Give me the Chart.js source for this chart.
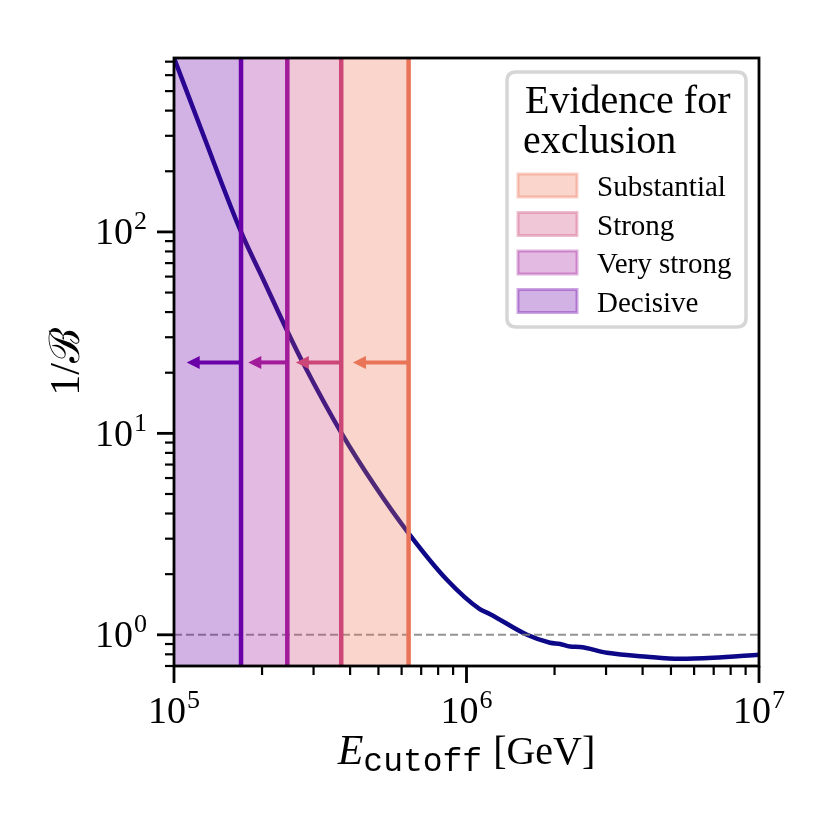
<!DOCTYPE html>
<html><head><meta charset="utf-8">
<script src="https://cdn.jsdelivr.net/npm/chart.js@4.4.0/dist/chart.umd.min.js"></script>
<style>html,body{margin:0;padding:0;background:#fff}canvas{display:block}</style>
</head><body>
<canvas id="c" width="830" height="830"></canvas>
<script>
// ---- data ----
const energyGeV = [1.0e5, 1.256e5, 1.695e5, 2.03e5, 2.43e5, 2.76e5, 3.75e5, 4.86e5, 6.36e5, 8.57e5, 1.11e6, 1.20e6, 1.61e6, 1.93e6, 2.09e6, 2.26e6, 2.44e6, 3.02e6, 4.14e6, 5.37e6, 6.97e6, 1.0e7];
const invBayes  = [730, 306, 100, 57.1, 32.6, 22.4, 9.94, 5.49, 3.17, 1.875, 1.34, 1.27, 1.0, 0.913, 0.900, 0.874, 0.870, 0.814, 0.778, 0.760, 0.769, 0.796];
const evidenceLabels = ['Substantial', 'Strong', 'Very strong', 'Decisive'];
const evidenceColors = ['#ea7457', '#cc4778', '#a11b9b', '#6a00a8'];
const thresholdEnergy = [6.34e5, 3.73e5, 2.44e5, 1.695e5];
const arrowTipEnergy = [4.09e5, 2.61e5, 1.795e5, 1.105e5];
const arrowLevel = 22.5;
const referenceLevel = 1;
const xRange = [1e5, 1e7];
const yRange = [0.7, 730];
const xTickValues = [1e5, 1e6, 1e7];
const yTickValues = [1, 10, 100];
const legendTitle = ['Evidence for', 'exclusion'];
const xTitleParts = ['E', 'cutoff', '[GeV]'];
const yTitle = '1/\u212C';

// ---- helpers ----
function rgba(hex, a) {
  const n = parseInt(hex.slice(1), 16);
  return `rgba(${(n >> 16) & 255},${(n >> 8) & 255},${n & 255},${a})`;
}
function expOf(v) { return String(Math.round(Math.log10(v))); }
const SERIF = '"Liberation Serif", "DejaVu Serif", serif';
const F_BASE = '38px ' + SERIF, F_EXP = '26px ' + SERIF;

function drawPow(ctx, v, x, baseline, align) {
  ctx.font = F_BASE; const wb = ctx.measureText('10').width;
  ctx.font = F_EXP; const e = expOf(v); const we = ctx.measureText(e).width;
  const total = wb + we + 1;
  let x0 = align === 'center' ? x - total / 2 : x - total;
  ctx.textAlign = 'left'; ctx.textBaseline = 'alphabetic'; ctx.fillStyle = '#000';
  ctx.font = F_BASE; ctx.fillText('10', x0, baseline);
  ctx.font = F_EXP; ctx.fillText(e, x0 + wb + 1, baseline - 15);
}

// ---- datasets ----
const datasets = [];
datasets.push({
  type: 'line', label: 'curve', order: 10,
  data: energyGeV.map((x, i) => ({x, y: invBayes[i]})),
  borderColor: '#0d0887', borderWidth: 4.5, pointRadius: 0,
  cubicInterpolationMode: 'monotone', fill: false
});
datasets.push({
  type: 'line', label: 'reference', order: 9,
  data: [{x: xRange[0], y: referenceLevel}, {x: xRange[1], y: referenceLevel}],
  borderColor: 'rgba(128,128,128,0.85)', borderWidth: 2, borderDash: [8, 4],
  pointRadius: 0, fill: false
});
evidenceLabels.forEach((lab, i) => {
  const lo = i + 1 < thresholdEnergy.length ? thresholdEnergy[i + 1] : xRange[0];
  datasets.push({
    type: 'line', label: lab, order: 5, legendPatch: true, patchColor: evidenceColors[i],
    data: [{x: lo, y: yRange[1]}, {x: thresholdEnergy[i], y: yRange[1]}],
    borderWidth: 0, borderColor: 'rgba(0,0,0,0)', pointRadius: 0,
    backgroundColor: rgba(evidenceColors[i], 0.3), fill: 'start'
  });
});
evidenceLabels.forEach((lab, i) => {
  datasets.push({
    type: 'line', label: lab + ' threshold', order: 2,
    data: [{x: thresholdEnergy[i], y: yRange[0]}, {x: thresholdEnergy[i], y: yRange[1]}],
    borderColor: evidenceColors[i], borderWidth: 4.5, pointRadius: 0, fill: false
  });
});

// ---- plugins ----
const decorPlugin = {
  id: 'decor',
  afterDatasetsDraw(chart) {
    const {ctx, scales: {x, y}} = chart;
    ctx.save();
    const ca = chart.chartArea;
    ctx.beginPath(); ctx.rect(ca.left, ca.top, ca.right - ca.left, ca.bottom - ca.top); ctx.clip();
    thresholdEnergy.forEach((xv, i) => {
      const x0 = x.getPixelForValue(xv), x1 = x.getPixelForValue(arrowTipEnergy[i]);
      const yy = y.getPixelForValue(arrowLevel);
      const headL = 13, headH = 6.5;
      ctx.strokeStyle = evidenceColors[i]; ctx.fillStyle = evidenceColors[i];
      ctx.lineWidth = 4;
      ctx.beginPath(); ctx.moveTo(x0, yy); ctx.lineTo(x1 + headL - 1, yy); ctx.stroke();
      ctx.beginPath(); ctx.moveTo(x1, yy); ctx.lineTo(x1 + headL, yy - headH); ctx.lineTo(x1 + headL, yy + headH); ctx.closePath(); ctx.fill();
    });
    ctx.restore();
  },
  afterDraw(chart) {
    const {ctx, scales: {x, y}} = chart;
    const ca = chart.chartArea;
    ctx.save();
    // ticks
    ctx.strokeStyle = '#000';
    const majLen = 17, minLen = 9;
    for (let e = Math.floor(Math.log10(xRange[0])); e <= Math.ceil(Math.log10(xRange[1])); e++) {
      for (let k = 1; k <= 9; k++) {
        const v = k * Math.pow(10, e);
        if (v < xRange[0] * 0.999 || v > xRange[1] * 1.001) continue;
        const p = x.getPixelForValue(v);
        ctx.lineWidth = k === 1 ? 2.8 : 2.2;
        ctx.beginPath(); ctx.moveTo(p, ca.bottom); ctx.lineTo(p, ca.bottom + (k === 1 ? majLen : minLen)); ctx.stroke();
      }
    }
    for (let e = Math.floor(Math.log10(yRange[0])); e <= Math.ceil(Math.log10(yRange[1])); e++) {
      for (let k = 1; k <= 9; k++) {
        const v = k * Math.pow(10, e);
        if (v < yRange[0] * 0.999 || v > yRange[1] * 1.001) continue;
        const p = y.getPixelForValue(v);
        ctx.lineWidth = k === 1 ? 2.8 : 2.2;
        ctx.beginPath(); ctx.moveTo(ca.left, p); ctx.lineTo(ca.left - (k === 1 ? majLen : minLen), p); ctx.stroke();
      }
    }
    // tick labels from scale ticks
    x.ticks.forEach(t => drawPow(ctx, t.value, x.getPixelForValue(t.value), ca.bottom + 57, 'center'));
    y.ticks.forEach(t => drawPow(ctx, t.value, ca.left - 27, y.getPixelForValue(t.value) + 12.5, 'right'));
    // frame
    ctx.lineWidth = 2.8;
    ctx.strokeStyle = '#000';
    ctx.strokeRect(ca.left, ca.top, ca.right - ca.left, ca.bottom - ca.top);

    // legend
    const bx = ca.right - 252, by = ca.top + 14, bw = 239, bh = 255, r = 9;
    ctx.beginPath();
    ctx.moveTo(bx + r, by); ctx.lineTo(bx + bw - r, by); ctx.quadraticCurveTo(bx + bw, by, bx + bw, by + r);
    ctx.lineTo(bx + bw, by + bh - r); ctx.quadraticCurveTo(bx + bw, by + bh, bx + bw - r, by + bh);
    ctx.lineTo(bx + r, by + bh); ctx.quadraticCurveTo(bx, by + bh, bx, by + bh - r);
    ctx.lineTo(bx, by + r); ctx.quadraticCurveTo(bx, by, bx + r, by); ctx.closePath();
    ctx.fillStyle = 'rgba(255,255,255,0.8)'; ctx.fill();
    ctx.strokeStyle = '#d6d6d6'; ctx.lineWidth = 3.5; ctx.stroke();
    ctx.fillStyle = '#000'; ctx.textBaseline = 'alphabetic'; ctx.textAlign = 'left';
    ctx.font = '40px ' + SERIF;
    ctx.fillText(legendTitle[0], bx + 18, by + 41);
    ctx.fillText(legendTitle[1], bx + 16, by + 81);
    const items = chart.data.datasets.filter(d => d.legendPatch);
    items.forEach((d, i) => {
      const cy = by + 113.5 + i * 38.5;
      ctx.fillStyle = rgba(d.patchColor, 0.3);
      ctx.fillRect(bx + 11, cy - 11.5, 59, 23);
      ctx.strokeStyle = rgba(d.patchColor, 0.35); ctx.lineWidth = 3;
      ctx.strokeRect(bx + 11, cy - 11.5, 59, 23);
      ctx.fillStyle = '#000';
      ctx.font = '29px ' + SERIF;
      ctx.fillText(d.label, bx + 90, cy + 10.5);
    });

    // axis titles
    ctx.fillStyle = '#000';
    ctx.save();
    ctx.translate(68, 362);
    ctx.rotate(-Math.PI / 2);
    ctx.textAlign = 'center'; ctx.textBaseline = 'middle';
    ctx.font = '42px ' + SERIF;
    ctx.fillText(yTitle, 0, 0);
    ctx.restore();

    const fE = 'italic 42px ' + SERIF, fT = '33px "Liberation Mono", "DejaVu Sans Mono", monospace', fG = '40px ' + SERIF;
    ctx.font = fE; const wE = ctx.measureText(xTitleParts[0]).width;
    ctx.font = fT; const wT = ctx.measureText(xTitleParts[1]).width;
    ctx.font = fG; const wG = ctx.measureText(xTitleParts[2]).width;
    const gap1 = 0, gap2 = 11;
    const total = wE + gap1 + wT + gap2 + wG;
    let cx = (ca.left + ca.right) / 2 - total / 2;
    const base = 764;
    ctx.textAlign = 'left'; ctx.textBaseline = 'alphabetic';
    ctx.font = fE; ctx.fillText(xTitleParts[0], cx, base); cx += wE + gap1;
    ctx.font = fT; ctx.fillText(xTitleParts[1], cx, base + 7); cx += wT + gap2;
    ctx.font = fG; ctx.fillText(xTitleParts[2], cx, base);
    ctx.restore();
  }
};

new Chart(document.getElementById('c'), {
  type: 'line',
  data: {datasets},
  options: {
    responsive: false, animation: false, devicePixelRatio: 1,
    layout: {padding: {top: 58, right: 71, left: 0, bottom: 0}},
    plugins: {legend: {display: false}, tooltip: {enabled: false}},
    scales: {
      x: {
        type: 'logarithmic', min: xRange[0], max: xRange[1],
        afterBuildTicks: s => { s.ticks = xTickValues.map(v => ({value: v, major: true})); },
        afterFit: s => { s.height = 164; },
        grid: {display: false, drawTicks: false}, border: {display: false},
        ticks: {display: false, autoSkip: false, maxRotation: 0, minRotation: 0, callback: v => '10^' + expOf(v)}
      },
      y: {
        type: 'logarithmic', min: yRange[0], max: yRange[1],
        afterBuildTicks: s => { s.ticks = yTickValues.map(v => ({value: v, major: true})); },
        afterFit: s => { s.width = 174; },
        grid: {display: false, drawTicks: false}, border: {display: false},
        ticks: {display: false, autoSkip: false, callback: v => '10^' + expOf(v)}
      }
    }
  },
  plugins: [decorPlugin]
});
</script>
</body></html>
